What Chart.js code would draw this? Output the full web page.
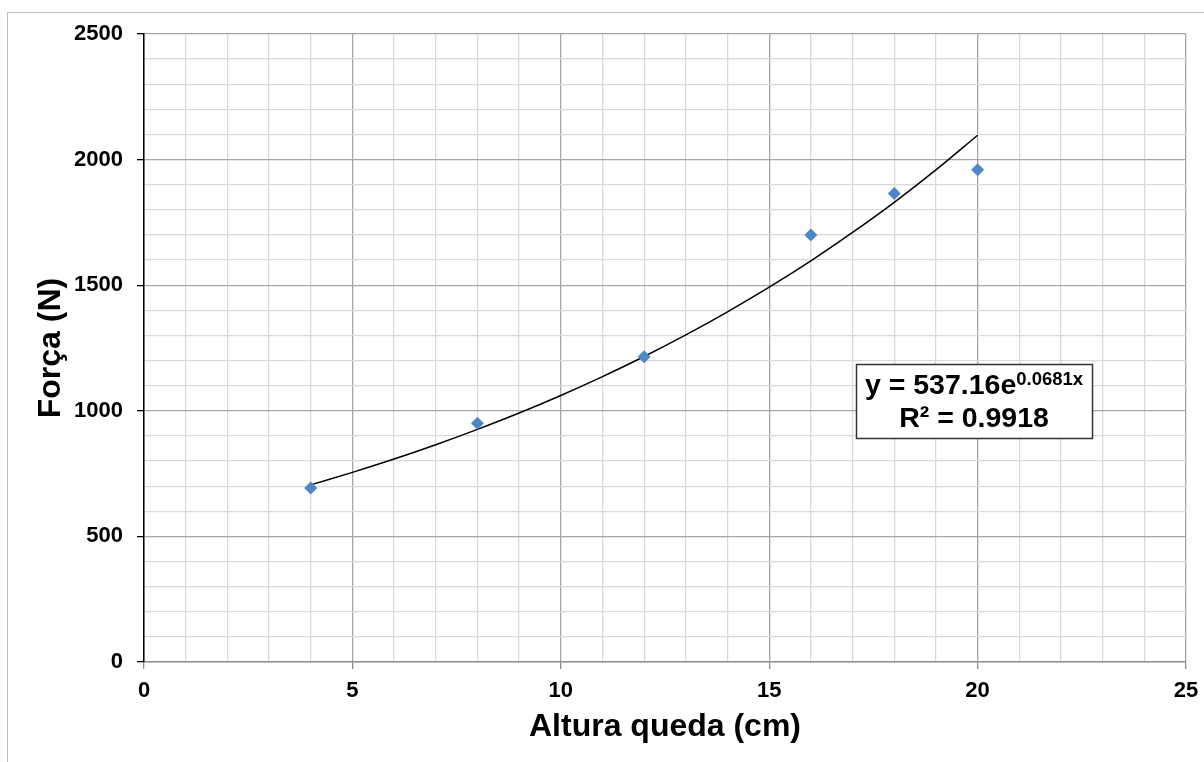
<!DOCTYPE html>
<html>
<head>
<meta charset="utf-8">
<script src="https://cdn.jsdelivr.net/npm/chart.js@4.4.1/dist/chart.umd.min.js"></script>
<style>
  html, body { margin: 0; padding: 0; background: #fff; }
  #wrap { width: 1204px; height: 762px; }
</style>
</head>
<body>
<div id="wrap"><canvas id="forceChart" width="1204" height="762"></canvas></div>
<script>
// measured points
const heights = [4, 8, 12, 16, 18, 20];
const forces = [693, 950, 1215, 1700, 1865, 1960];

// exponential trendline
const trendX = [4, 5, 6, 7, 8, 9, 10, 11, 12, 13, 14, 15, 16, 17, 18, 19, 20];
const trendY = [705, 755, 808, 865, 926, 991, 1061, 1136, 1216, 1302, 1394, 1492, 1597, 1710, 1830, 1959, 2097];

const xTicks = [0, 5, 10, 15, 20, 25];
const yTicks = [0, 500, 1000, 1500, 2000, 2500];

const eqMain = "y = 537.16e";
const eqSup = "0.0681x";
const eqR2 = "R² = 0.9918";

const FONT = "'Liberation Sans', Arial, sans-serif";

const frame = {
  id: "frame",
  beforeDraw(chart) {
    const ctx = chart.ctx;
    ctx.save();
    ctx.fillStyle = "#fff";
    ctx.fillRect(0, 0, chart.width, chart.height);
    ctx.strokeStyle = "#bdbdbd";
    ctx.lineWidth = 1;
    ctx.strokeRect(7.5, 12.5, 1400, 1000);
    ctx.restore();
  }
};

const eqBox = {
  id: "eqBox",
  afterDatasetsDraw(chart) {
    const ctx = chart.ctx;
    ctx.save();
    const bx = 856, by = 364, bw = 236, bh = 74;
    ctx.fillStyle = "#fff";
    ctx.fillRect(bx, by, bw, bh);
    ctx.strokeStyle = "#333";
    ctx.lineWidth = 1.5;
    ctx.strokeRect(bx + 0.5, by + 0.5, bw, bh);

    ctx.fillStyle = "#000";
    ctx.textBaseline = "alphabetic";
    ctx.font = "bold 28.5px " + FONT;
    const wMain = ctx.measureText(eqMain).width;
    ctx.font = "bold 18.5px " + FONT;
    const wSup = ctx.measureText(eqSup).width;
    const cx = bx + bw / 2;
    let x0 = cx - (wMain + wSup) / 2;
    ctx.font = "bold 28.5px " + FONT;
    ctx.textAlign = "left";
    ctx.fillText(eqMain, x0, 394);
    ctx.font = "bold 18.5px " + FONT;
    ctx.fillText(eqSup, x0 + wMain, 385);

    ctx.font = "bold 28.5px " + FONT;
    ctx.textAlign = "center";
    ctx.fillText(eqR2, cx, 427);
    ctx.restore();
  }
};

const ctx = document.getElementById("forceChart");

new Chart(ctx, {
  type: "scatter",
  data: {
    datasets: [
      {
        label: "Força",
        data: heights.map((h, i) => ({ x: h, y: forces[i] })),
        pointStyle: "rectRot",
        pointRadius: 6.5,
        pointHoverRadius: 6.5,
        backgroundColor: "#4f86c6",
        borderColor: "#4f86c6",
        borderWidth: 0,
        order: 0
      },
      {
        label: "Exponencial",
        data: trendX.map((x, i) => ({ x: x, y: trendY[i] })),
        showLine: true,
        pointRadius: 0,
        borderColor: "#000",
        borderWidth: 1.5,
        cubicInterpolationMode: "monotone",
        order: 1
      }
    ]
  },
  options: {
    responsive: false,
    animation: false,
    devicePixelRatio: 1,
    layout: { padding: { left: 0, right: 18, top: 34, bottom: 0 } },
    plugins: {
      legend: { display: false },
      tooltip: { enabled: false }
    },
    scales: {
      x: {
        type: "linear",
        min: 0,
        max: 25,
        afterFit(scale) {
          scale.height = 100;
          scale.paddingRight = 0;
          scale.paddingLeft = 0;
        },
        afterBuildTicks(scale) {
          scale.ticks = [];
          for (let v = 0; v <= 25; v++) scale.ticks.push({ value: v });
        },
        ticks: {
          autoSkip: false,
          maxRotation: 0,
          padding: 9,
          color: "#000",
          font: { family: FONT, size: 22, weight: "bold" },
          callback: v => (xTicks.includes(v) ? v : "")
        },
        grid: {
          color: c => (c.tick && c.tick.value % 5 === 0 ? "#a6a6a6" : "#d9d9d9"),
          tickColor: c => (c.tick && c.tick.value % 5 === 0 ? "#8c8c8c" : "rgba(0,0,0,0)"),
          tickLength: 7,
          lineWidth: 1.3
        },
        border: { color: "#8c8c8c", width: 1.5 },
        title: {
          display: true,
          text: "Altura queda (cm)",
          color: "#000",
          font: { family: FONT, size: 32, weight: "bold" },
          padding: { top: 0, bottom: 16 }
        }
      },
      y: {
        type: "linear",
        min: 0,
        max: 2500,
        afterFit(scale) { scale.width = 144; },
        afterBuildTicks(scale) {
          scale.ticks = [];
          for (let v = 0; v <= 2500; v += 100) scale.ticks.push({ value: v });
        },
        ticks: {
          autoSkip: false,
          padding: 14,
          color: "#000",
          font: { family: FONT, size: 22, weight: "bold" },
          callback: v => (yTicks.includes(v) ? v : "")
        },
        grid: {
          color: c => (c.tick && c.tick.value % 500 === 0 && c.tick.value > 0 ? "#a6a6a6" : "#d9d9d9"),
          tickColor: c => (c.tick && c.tick.value % 500 === 0 ? "#000" : "rgba(0,0,0,0)"),
          tickLength: 7,
          lineWidth: 1.3
        },
        border: { color: "#000", width: 1.5 },
        title: {
          display: true,
          text: "Força (N)",
          color: "#000",
          font: { family: FONT, size: 32, weight: "bold" },
          padding: { top: 32, bottom: 0 }
        }
      }
    }
  },
  plugins: [frame, eqBox]
});
</script>
</body>
</html>
